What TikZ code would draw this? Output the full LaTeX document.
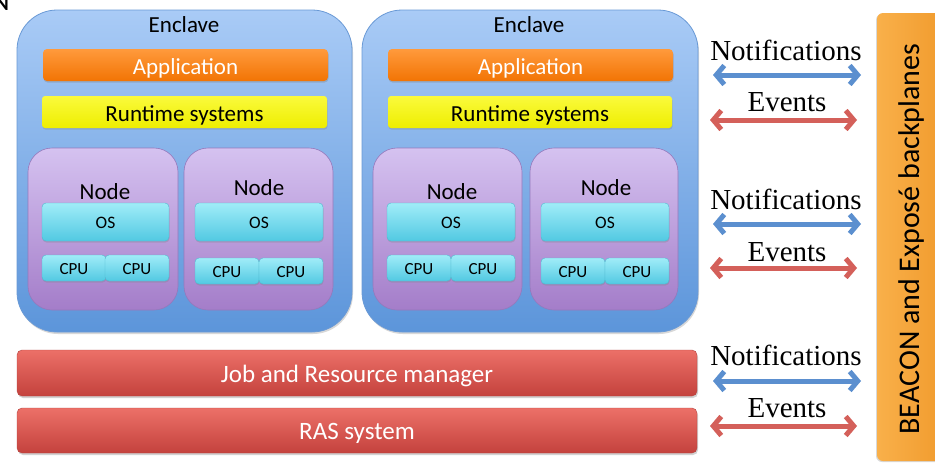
\documentclass[tikz,border=0pt]{standalone}
\usepackage{fontspec}
\setmainfont{Liberation Serif}
\newfontfamily\calfont{Carlito}
\usetikzlibrary{arrows.meta,shadows}
\definecolor{encT}{HTML}{A9CBF6}
\definecolor{encBot}{HTML}{5C95DA}
\definecolor{encD}{HTML}{6A9AD6}
\definecolor{appT}{HTML}{FF9A3C}
\definecolor{appB}{HTML}{F27404}
\definecolor{rtT}{HTML}{FAFA3C}
\definecolor{rtB}{HTML}{EEEE00}
\definecolor{ndT}{HTML}{D5C2F0}
\definecolor{ndB}{HTML}{A47DC9}
\definecolor{ndD}{HTML}{9479BC}
\definecolor{osT}{HTML}{A0ECF8}
\definecolor{osB}{HTML}{52C9E2}
\definecolor{osD}{HTML}{4FB8CF}
\definecolor{rdT}{HTML}{EC7068}
\definecolor{rdB}{HTML}{C4423D}
\definecolor{rdD}{HTML}{B54440}
\definecolor{orT}{HTML}{F9B04A}
\definecolor{orB}{HTML}{F09A2C}
\definecolor{blA}{HTML}{5B8FCF}
\definecolor{rdA}{HTML}{D4605A}
\begin{document}
\begin{tikzpicture}[x=1pt,y=-1pt,
  box/.style={anchor=north west,inner sep=0pt,outer sep=0pt},
  enclave/.style={box,draw=encD,line width=0.8pt,rounded corners=40pt,top color=encT,bottom color=encBot,
     drop shadow={shadow xshift=1pt,shadow yshift=-2pt,opacity=0.3}},
  appbar/.style={box,rounded corners=4pt,top color=appT,bottom color=appB,
     drop shadow={shadow xshift=0.5pt,shadow yshift=-1.5pt,opacity=0.35}},
  rtbar/.style={box,rounded corners=3pt,top color=rtT,bottom color=rtB,
     drop shadow={shadow xshift=0.5pt,shadow yshift=-1.5pt,opacity=0.3}},
  nodebox/.style={box,draw=ndD,line width=0.6pt,rounded corners=24pt,top color=ndT,bottom color=ndB},
  osbox/.style={box,draw=osD,line width=0.4pt,rounded corners=4pt,top color=osT,bottom color=osB,
     drop shadow={shadow xshift=0.5pt,shadow yshift=-1.5pt,opacity=0.3}},
  redbar/.style={box,rounded corners=5pt,top color=rdT,bottom color=rdB,draw=rdD,line width=0.4pt,
     drop shadow={shadow xshift=1pt,shadow yshift=-2pt,opacity=0.35}},
  sidebar/.style={box,rounded corners=6pt,left color=orT,right color=orB,
     drop shadow={shadow xshift=-1pt,shadow yshift=-1pt,opacity=0.3}},
  lbl/.style={font=\calfont\fontsize{23}{25}\selectfont,inner sep=0pt},
  inlbl/.style={lbl,yshift=-3pt},
  redlbl/.style={font=\calfont\fontsize{25}{27}\selectfont,inner sep=0pt,text=white,yshift=-3pt},
  small/.style={font=\calfont\fontsize{17.5}{19}\selectfont,inner sep=0pt,yshift=-1pt},
  cpu/.style={font=\calfont\fontsize{17}{18}\selectfont,inner sep=0pt,yshift=-1pt},
  serif/.style={font=\fontsize{29}{31}\selectfont,inner sep=0pt},
  dblarrow/.style={line width=5pt,{Straight Barb[length=8pt,width=19pt]}-{Straight Barb[length=8pt,width=19pt]}},
  blarrow/.style={dblarrow,draw=blA},
  rdarrow/.style={dblarrow,draw=rdA}
]
\useasboundingbox (0,0) rectangle (935,464);
\fill[white] (0,0) rectangle (935,464);
\node[font=\calfont\bfseries\fontsize{20}{20}\selectfont,anchor=north east,inner sep=0pt] (corner) at (9,-3) {N};

% Enclave 1
\node[enclave,minimum width=335pt,minimum height=322pt] (e1) at (17,10) {};
\node[lbl] (e1t) at (184,25) {Enclave};
\node[appbar,minimum width=285pt,minimum height=32pt] (a1) at (43,49) {};
\node[inlbl,text=white] at (a1.center) {Application};
\node[rtbar,minimum width=285pt,minimum height=32pt] (r1) at (42,96) {};
\node[inlbl] at (r1.center) {Runtime systems};
\node[nodebox,minimum width=150pt,minimum height=162pt] (n1) at (28,148) {};
\node[lbl] (n1t) at (105,192) {Node};
\node[osbox,minimum width=127pt,minimum height=38pt] (o1) at (42,203) {};
\node[small] at (o1.center) {OS};
\node[osbox,minimum width=64pt,minimum height=26pt] (c11) at (42,255) {};
\node[cpu] at (c11.center) {CPU};
\node[osbox,minimum width=64pt,minimum height=26pt] (c12) at (105,255) {};
\node[cpu] at (c12.center) {CPU};
\node[nodebox,minimum width=149pt,minimum height=162pt] (n2) at (184,148) {};
\node[lbl] (n2t) at (259,188) {Node};
\node[osbox,minimum width=128pt,minimum height=38pt] (o2) at (195,203) {};
\node[small] at (o2.center) {OS};
\node[osbox,minimum width=64pt,minimum height=26pt] (c21) at (195,258) {};
\node[cpu] at (c21.center) {CPU};
\node[osbox,minimum width=64pt,minimum height=26pt] (c22) at (259,258) {};
\node[cpu] at (c22.center) {CPU};

% Enclave 2
\node[enclave,minimum width=336pt,minimum height=322pt] (e2) at (362,10) {};
\node[lbl] (e2t) at (529,25) {Enclave};
\node[appbar,minimum width=285pt,minimum height=32pt] (a2) at (388,49) {};
\node[inlbl,text=white] at (a2.center) {Application};
\node[rtbar,minimum width=284pt,minimum height=32pt] (r2) at (388,96) {};
\node[inlbl] at (r2.center) {Runtime systems};
\node[nodebox,minimum width=149pt,minimum height=162pt] (n3) at (373,148) {};
\node[lbl] (n3t) at (452,192) {Node};
\node[osbox,minimum width=128pt,minimum height=38pt] (o3) at (387,203) {};
\node[small] at (o3.center) {OS};
\node[osbox,minimum width=64pt,minimum height=26pt] (c31) at (387,255) {};
\node[cpu] at (c31.center) {CPU};
\node[osbox,minimum width=64pt,minimum height=26pt] (c32) at (451,255) {};
\node[cpu] at (c32.center) {CPU};
\node[nodebox,minimum width=148pt,minimum height=162pt] (n4) at (530,148) {};
\node[lbl] (n4t) at (606,188) {Node};
\node[osbox,minimum width=128pt,minimum height=38pt] (o4) at (541,203) {};
\node[small] at (o4.center) {OS};
\node[osbox,minimum width=64pt,minimum height=26pt] (c41) at (541,258) {};
\node[cpu] at (c41.center) {CPU};
\node[osbox,minimum width=64pt,minimum height=26pt] (c42) at (605,258) {};
\node[cpu] at (c42.center) {CPU};

% Bottom bars
\node[redbar,minimum width=680pt,minimum height=46pt] (jr) at (17,350) {};
\node[redlbl] at (jr.center) {Job and Resource manager};
\node[redbar,minimum width=680pt,minimum height=45pt] (ras) at (17,408) {};
\node[redlbl] at (ras.center) {RAS system};

% Side bar
\node[sidebar,minimum width=70pt,minimum height=448pt] (bp) at (877,13) {};
\node[font=\calfont\fontsize{30}{32}\selectfont,inner sep=0pt,rotate=90] (bpt) at (911,239) {BEACON and Exposé backplanes};

% Notifications / Events
\foreach \i/\yn/\ya/\ye/\yb in {1/50/75/102/120, 2/199/224/252/268, 3/355/381/408/426}{
  \node[serif] (not\i) at (786,\yn) {Notifications};
  \coordinate (nl\i) at (713,\ya);
  \coordinate (nr\i) at (861,\ya);
  \draw[blarrow] (nl\i) -- (nr\i);
  \node[serif] (ev\i) at (787,\ye) {Events};
  \coordinate (el\i) at (710,\yb);
  \coordinate (er\i) at (857,\yb);
  \draw[rdarrow] (el\i) -- (er\i);
}
\end{tikzpicture}
\end{document}
